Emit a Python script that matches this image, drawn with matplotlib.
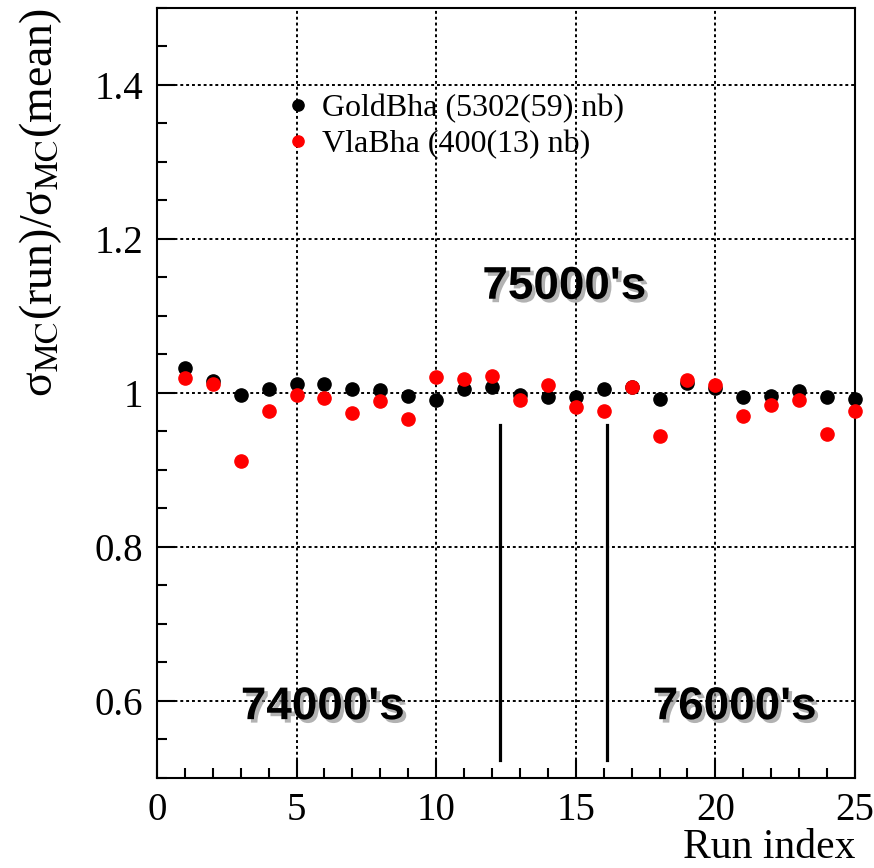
import matplotlib
matplotlib.use("Agg")
import matplotlib.pyplot as plt
import matplotlib.patheffects as pe
from matplotlib.ticker import MultipleLocator, FuncFormatter
import numpy as np

plt.rcParams['font.family'] = 'Liberation Serif'
plt.rcParams['mathtext.fontset'] = 'stix'

# run index and MC cross-section ratios
runs = np.arange(1, 26)
gold_bha = [1.032, 1.016, 0.997, 1.005, 1.012, 1.012, 1.005, 1.004, 0.996, 0.991,
            1.005, 1.008, 0.997, 0.995, 0.995, 1.005, 1.008, 0.992, 1.013, 1.006,
            0.995, 0.996, 1.003, 0.995, 0.992]
vla_bha = [1.019, 1.012, 0.912, 0.977, 0.997, 0.994, 0.974, 0.990, 0.966, 1.021,
           1.018, 1.022, 0.991, 1.010, 0.982, 0.977, 1.008, 0.944, 1.017, 1.010,
           0.970, 0.984, 0.991, 0.947, 0.977]
gold_label = "GoldBha (5302(59) nb)"
vla_label = "VlaBha (400(13) nb)"

# run range boundaries and labels
boundaries = [12.28, 16.12]
boundary_y = (0.523, 0.958)
range_labels = ["74000's", "75000's", "76000's"]
range_pos = [(5.95, 0.592), (14.6, 1.138), (20.7, 0.592)]

fig = plt.figure(figsize=(8.74, 8.68), dpi=100)
ax = fig.add_axes([0.1796, 0.1037, 0.7986, 0.8871])

ax.grid(True, which='major', color='black', linestyle=(0, (1.5, 1.5)), linewidth=1.4)
ax.set_axisbelow(True)

ax.plot(runs, gold_bha, 'o', color='black', markersize=9.5, label=gold_label, clip_on=False, zorder=3)
ax.plot(runs, vla_bha, 'o', color='red', markersize=9.5, label=vla_label, clip_on=False, zorder=3)

for b in boundaries:
    ax.plot([b, b], boundary_y, color='black', linewidth=2.3)

shadow = [pe.withSimplePatchShadow(offset=(2.5, -2.5), shadow_rgbFace='0.5', alpha=0.6)]
for txt, (x, y) in zip(range_labels, range_pos):
    ax.text(x, y, txt, ha='center', va='center', fontsize=33, fontweight='bold',
            family='Liberation Sans', path_effects=shadow)

ax.set_xlim(0, 25)
ax.set_ylim(0.5, 1.5)
ax.xaxis.set_major_locator(MultipleLocator(5))
ax.xaxis.set_minor_locator(MultipleLocator(1))
ax.yaxis.set_major_locator(MultipleLocator(0.2))
ax.yaxis.set_minor_locator(MultipleLocator(0.05))
ax.yaxis.set_major_formatter(FuncFormatter(lambda v, p: '%g' % round(v, 2)))

ax.tick_params(which='both', direction='in', top=False, right=False, labelsize=28, width=1.5)
ax.tick_params(which='major', length=13, pad=10)
ax.tick_params(which='minor', length=7)
for s in ax.spines.values():
    s.set_linewidth(1.5)

ax.set_xlabel("Run index", fontsize=30, loc='right', labelpad=0)
ax.set_ylabel("σ$_{\\mathrm{MC}}$(run)/σ$_{\\mathrm{MC}}$(mean)", fontsize=33, loc='top', labelpad=22)

ax.legend(loc='upper left', bbox_to_anchor=(0.165, 0.905), frameon=False, fontsize=23,
          handlelength=0.8, handletextpad=0.35, labelspacing=0.22, markerscale=0.85,
          borderaxespad=0)

fig.savefig("out.png", dpi=100)
